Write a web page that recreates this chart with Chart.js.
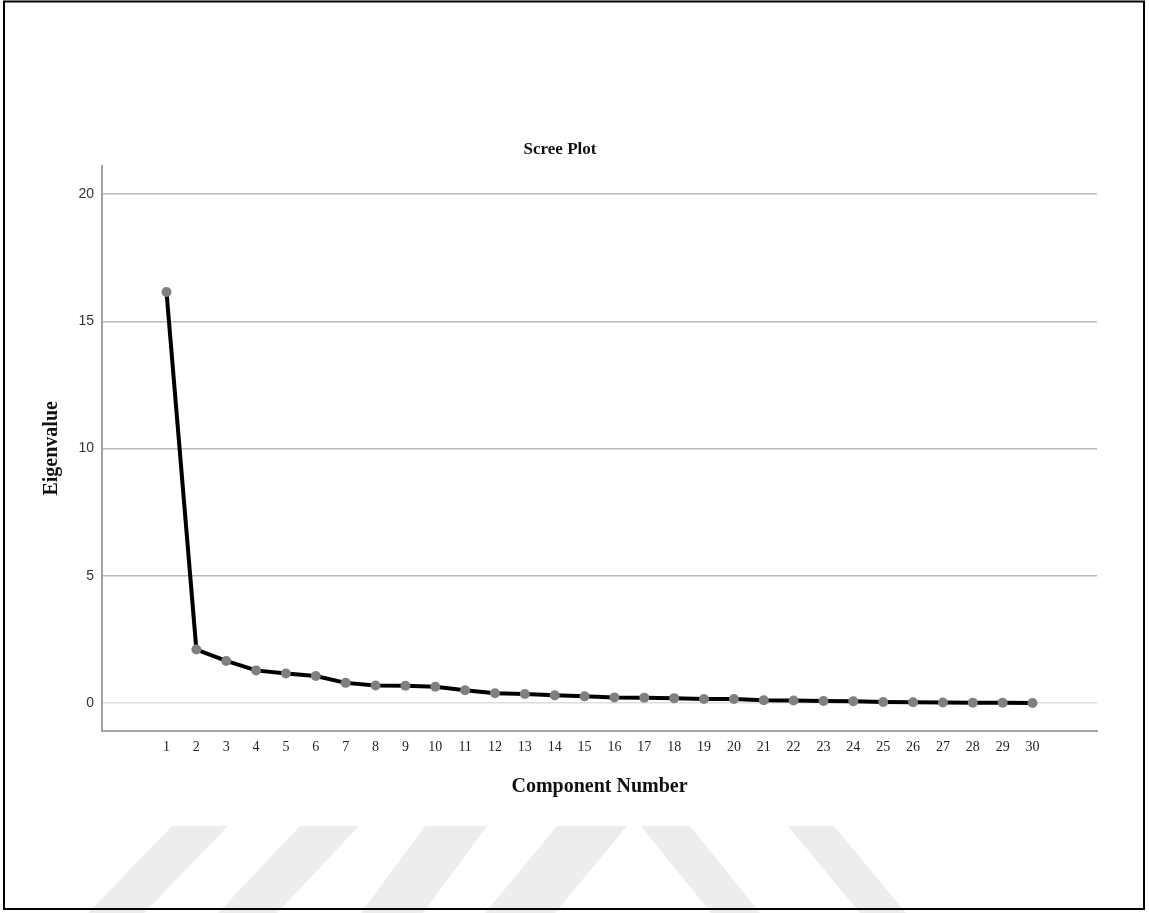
<!DOCTYPE html>
<html>
<head>
<meta charset="utf-8">
<title>Scree Plot</title>
<script src="https://cdn.jsdelivr.net/npm/chart.js@4/dist/chart.umd.min.js"></script>
<style>
  html, body { margin: 0; padding: 0; background: #ffffff; }
  #wrap { width: 1149px; height: 913px; position: relative; }
</style>
</head>
<body>
<div id="wrap"><canvas id="scree" width="1149" height="913"></canvas></div>
<script>
// Component numbers (x-axis categories / tick labels)
const components = [1, 2, 3, 4, 5, 6, 7, 8, 9, 10, 11, 12, 13, 14, 15,
                    16, 17, 18, 19, 20, 21, 22, 23, 24, 25, 26, 27, 28, 29, 30];

// Eigenvalue of each component
const eigenvalues = [16.15, 2.11, 1.66, 1.29, 1.17, 1.07, 0.80, 0.70, 0.69, 0.65,
                     0.51, 0.39, 0.36, 0.31, 0.27, 0.23, 0.22, 0.20, 0.17, 0.17,
                     0.12, 0.11, 0.09, 0.08, 0.05, 0.04, 0.03, 0.02, 0.02, 0.01];

// Y-axis tick values
const yTicks = [0, 5, 10, 15, 20];

const titleText = 'Scree Plot';
const xTitle = 'Component Number';
const yTitle = 'Eigenvalue';

const points = components.map((c, i) => ({ x: c, y: eigenvalues[i] }));

// Page decoration: outer frame, faint diagonal stripes, and the chart heading
const decor = {
  id: 'decor',
  beforeDraw(chart) {
    const ctx = chart.ctx;
    ctx.save();
    ctx.fillStyle = '#ffffff';
    ctx.fillRect(0, 0, chart.width, chart.height);
    // faint diagonal stripes along the bottom edge
    ctx.fillStyle = '#ededed';
    const top = 826, bot = 913;
    const stripes = [
      [172, 228, -84], [300, 359, -82], [425, 487, -64], [557, 627, -72],
      [641, 690, 70], [788, 834, 72]
    ];
    stripes.forEach(([a, b, d]) => {
      ctx.beginPath();
      ctx.moveTo(a, top);
      ctx.lineTo(b, top);
      ctx.lineTo(b + d, bot);
      ctx.lineTo(a + d, bot);
      ctx.closePath();
      ctx.fill();
    });
    ctx.restore();
  },
  afterDraw(chart) {
    const ctx = chart.ctx;
    ctx.save();
    ctx.fillStyle = '#111111';
    ctx.font = 'bold 17px "Liberation Serif", "Times New Roman", serif';
    ctx.textAlign = 'center';
    ctx.textBaseline = 'middle';
    ctx.fillText(titleText, 560, 150);
    ctx.strokeStyle = '#000000';
    ctx.lineWidth = 2;
    ctx.strokeRect(4, 1.5, 1140, 907.5);
    ctx.restore();
  }
};

new Chart(document.getElementById('scree'), {
  type: 'line',
  data: {
    datasets: [{
      data: points,
      borderColor: '#000000',
      borderWidth: 4,
      pointRadius: 5,
      pointHoverRadius: 5,
      pointBackgroundColor: '#808080',
      pointBorderWidth: 0,
      tension: 0,
      fill: false,
      clip: false
    }]
  },
  options: {
    responsive: false,
    animation: false,
    events: [],
    layout: { padding: { left: 40, right: 52, top: 165.7, bottom: 114 } },
    plugins: {
      legend: { display: false },
      tooltip: { enabled: false },
      title: { display: false }
    },
    scales: {
      x: {
        type: 'linear',
        min: -1.16,
        max: 32.16,
        afterBuildTicks: (axis) => { axis.ticks = components.map(v => ({ value: v })); },
        afterFit: (axis) => { axis.height = 68; },
        grid: { display: false, drawTicks: false },
        border: { display: true, color: '#a3a3a3', width: 2 },
        ticks: {
          autoSkip: false,
          maxRotation: 0,
          padding: 8,
          color: '#222222',
          font: { family: '"Liberation Serif", "Times New Roman", serif', size: 14 },
          callback: (v) => String(v)
        },
        title: {
          display: true,
          text: xTitle,
          color: '#111111',
          padding: 0,
          font: { family: '"Liberation Serif", "Times New Roman", serif', size: 20, weight: 'bold' }
        }
      },
      y: {
        type: 'linear',
        min: -1.09,
        max: 21.11,
        afterBuildTicks: (axis) => { axis.ticks = yTicks.map(v => ({ value: v })); },
        afterFit: (axis) => { axis.width = 62; },
        grid: {
          drawTicks: false,
          lineWidth: 1.5,
          color: (c) => (c.tick && c.tick.value === 0) ? '#dcdcdc' : '#b9b9b9'
        },
        border: { display: true, color: '#a3a3a3', width: 2 },
        ticks: {
          padding: 8,
          color: '#333333',
          font: { family: '"Liberation Sans", Arial, sans-serif', size: 14 },
          callback: (v) => String(v)
        },
        title: {
          display: true,
          text: yTitle,
          color: '#111111',
          padding: 0,
          font: { family: '"Liberation Serif", "Times New Roman", serif', size: 20, weight: 'bold' }
        }
      }
    }
  },
  plugins: [decor]
});
</script>
</body>
</html>
